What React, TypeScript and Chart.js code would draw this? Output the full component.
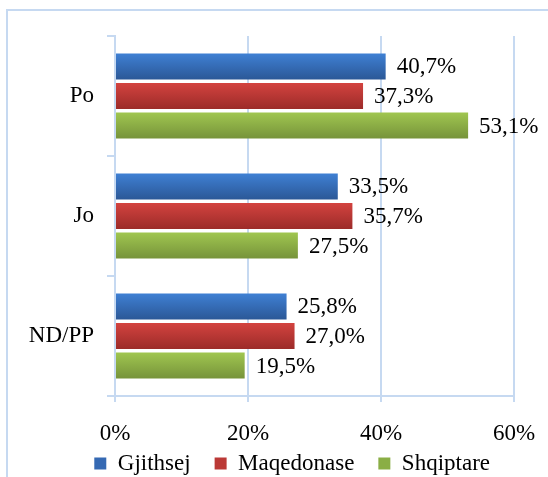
import React, { useEffect, useRef } from 'react';
import { Chart, registerables } from 'chart.js';

Chart.register(...registerables);

const categories = ['Po', 'Jo', 'ND/PP'];
const seriesNames = ['Gjithsej', 'Maqedonase', 'Shqiptare'];
const gjithsej = [40.7, 33.5, 25.8];
const maqedonase = [37.3, 35.7, 27.0];
const shqiptare = [53.1, 27.5, 19.5];
const xTickValues = [0, 20, 40, 60];

const FONT_FAMILY = '"Liberation Serif", "Times New Roman", serif';
const GRID = '#c6d9f1';
const solidColors = ['#3569b3', '#bb3936', '#8aae45'];
const gradientStops = [
  ['#3f80d4', '#2b5897'],
  ['#d3433f', '#9c2b29'],
  ['#a0c650', '#76933a'],
];

const fmt = (v: number) => v.toFixed(1).replace('.', ',') + '%';

const gradientPlugin = {
  id: 'barGradient',
  beforeDatasetsDraw(chart: any) {
    const ctx = chart.ctx;
    chart.data.datasets.forEach((_ds: any, i: number) => {
      const meta = chart.getDatasetMeta(i);
      const [top, bottom] = gradientStops[i];
      meta.data.forEach((el: any) => {
        const h = el.height;
        const y = el.y;
        const g = ctx.createLinearGradient(0, y - h / 2, 0, y + h / 2);
        g.addColorStop(0, top);
        g.addColorStop(1, bottom);
        el.options = Object.assign({}, el.options, { backgroundColor: g });
      });
    });
  },
};

const valueLabelPlugin = {
  id: 'valueLabels',
  afterDatasetsDraw(chart: any) {
    const ctx = chart.ctx;
    ctx.save();
    ctx.font = `23px ${FONT_FAMILY}`;
    ctx.fillStyle = '#000';
    ctx.textAlign = 'left';
    ctx.textBaseline = 'middle';
    chart.data.datasets.forEach((ds: any, i: number) => {
      const meta = chart.getDatasetMeta(i);
      meta.data.forEach((el: any, j: number) => {
        ctx.fillText(fmt(ds.data[j]), el.x + 11, el.y + 1);
      });
    });
    ctx.restore();
  },
};

// moves the legend up so it sits right under the axis labels
const legendShiftPlugin = {
  id: 'legendShift',
  afterLayout(chart: any) {
    const lg = chart.legend;
    if (lg) {
      lg.top -= 20;
      lg.bottom -= 20;
      if (lg.adjustHitBoxes) lg.adjustHitBoxes();
    }
  },
};

export default function App() {
  const ref = useRef<HTMLCanvasElement>(null);

  useEffect(() => {
    const font = { family: FONT_FAMILY, size: 23 };
    const seriesData = [gjithsej, maqedonase, shqiptare];
    const chart = new Chart(ref.current as HTMLCanvasElement, {
      type: 'bar',
      data: {
        labels: categories,
        datasets: seriesNames.map((name, i) => ({
          label: name,
          data: seriesData[i],
          backgroundColor: solidColors[i],
          borderWidth: 0,
          categoryPercentage: 0.74,
          barPercentage: 0.88,
        })),
      },
      options: {
        indexAxis: 'y',
        animation: false,
        responsive: false,
        maintainAspectRatio: false,
        layout: { padding: { left: 10, right: 34, top: 36, bottom: 5 } },
        plugins: {
          legend: {
            position: 'bottom',
            align: 'end',
            labels: {
              boxWidth: 12,
              boxHeight: 12,
              padding: 24,
              font,
              color: '#000',
            },
          },
          tooltip: { enabled: false },
        },
        scales: {
          x: {
            min: 0,
            max: 60,
            afterBuildTicks: (s: any) => {
              s.ticks = xTickValues.map((v) => ({ value: v }));
            },
            ticks: {
              callback: (v: any) => v + '%',
              padding: 18,
              font,
              color: '#000',
            },
            grid: { color: GRID, lineWidth: 2, tickLength: 6, drawTicks: true },
            border: { color: GRID, width: 2 },
            afterFit: (s: any) => {
              s.height = 52;
              s.paddingLeft = 0;
              s.paddingRight = 0;
            },
          },
          y: {
            ticks: { padding: 13, font, color: '#000' },
            grid: { drawOnChartArea: false, color: GRID, lineWidth: 2, tickLength: 8, offset: true },
            border: { color: GRID, width: 2 },
            afterFit: (s: any) => {
              s.width = 105;
            },
          },
        },
      } as any,
      plugins: [gradientPlugin, valueLabelPlugin, legendShiftPlugin],
    });
    return () => chart.destroy();
  }, []);

  return (
    <div style={{ position: 'fixed', left: 0, top: 0, width: 548, height: 510, background: '#fff', overflow: 'hidden' }}>
      <div
        style={{
          position: 'absolute',
          left: 6,
          top: 9,
          width: 560,
          height: 520,
          borderLeft: `2px solid ${GRID}`,
          borderTop: `2px solid ${GRID}`,
        }}
      />
      <canvas
        ref={ref}
        width={548}
        height={510}
        style={{ position: 'absolute', left: 0, top: 0, width: 548, height: 510 }}
      />
    </div>
  );
}
